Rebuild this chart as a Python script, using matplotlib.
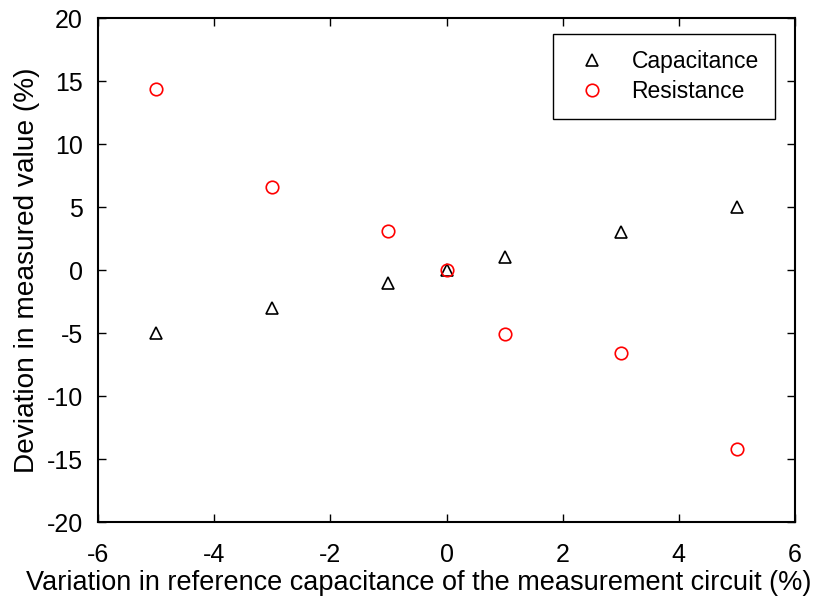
import numpy as np
import matplotlib.pyplot as plt

plt.rcParams['font.family'] = ['Liberation Sans', 'DejaVu Sans']
plt.rcParams['axes.unicode_minus'] = False

# measured deviations (%) vs. variation of reference capacitance (%)
variation = [-5, -3, -1, 0, 1, 3, 5]
capacitance = [-5.0, -3.0, -1.0, 0.0, 1.0, 3.0, 5.0]
resistance = [14.4, 6.6, 3.1, 0.0, -5.1, -6.6, -14.2]

x_ticks = [-6, -4, -2, 0, 2, 4, 6]
y_ticks = [-20, -15, -10, -5, 0, 5, 10, 15, 20]

fig = plt.figure(figsize=(8.39, 6.01), dpi=100)
ax = fig.add_axes([0.1168, 0.1314, 0.8308, 0.8386])

ax.plot(variation, capacitance, linestyle='none', marker='^', markersize=8.5,
        markerfacecolor='none', markeredgecolor='black', markeredgewidth=1.2,
        label='Capacitance')
ax.plot(variation, resistance, linestyle='none', marker='o', markersize=9,
        markerfacecolor='none', markeredgecolor='red', markeredgewidth=1.2,
        label='Resistance')

ax.set_xlim(-6, 6)
ax.set_ylim(-20, 20)
ax.set_xticks(x_ticks)
ax.set_yticks(y_ticks)
ax.tick_params(direction='in', top=True, right=True, length=6, width=1,
               labelsize=18)
ax.tick_params(axis='x', pad=15)
ax.tick_params(axis='y', pad=11)
for s in ax.spines.values():
    s.set_linewidth(1.5)

ax.set_xlabel('Variation in reference capacitance of the measurement circuit (%)',
              fontsize=19.5, labelpad=4)
ax.xaxis.set_label_coords(0.4605, -0.095)
ax.set_ylabel('Deviation in measured value (%)', fontsize=20.2, labelpad=5)

leg = ax.legend(loc='upper right', bbox_to_anchor=(0.971, 0.968), fontsize=16.5,
                fancybox=False, framealpha=1, edgecolor='black',
                markerfirst=True, handlelength=2.0, handletextpad=0.74,
                borderpad=0.7, labelspacing=0.3, borderaxespad=0)
leg.get_frame().set_linewidth(1.0)

plt.savefig('out.png', dpi=100)
